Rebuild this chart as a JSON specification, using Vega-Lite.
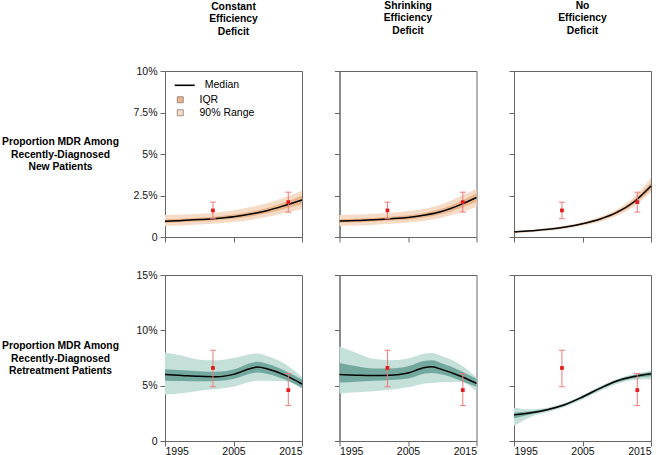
{
  "$schema": "https://vega.github.io/schema/vega-lite/v6.json",
  "padding": {"left": 0, "top": 0, "right": 0, "bottom": 0},
  "background": "white",
  "datasets": {
    "curves": [
      {"panel":"n1","year":1995,"med":0.95,"q25":0.85,"q75":1.06,"p05":0.65,"p95":1.32},
      {"panel":"n1","year":1997.5,"med":0.99,"q25":0.89,"q75":1.10,"p05":0.69,"p95":1.35},
      {"panel":"n1","year":2000,"med":1.05,"q25":0.95,"q75":1.16,"p05":0.75,"p95":1.40},
      {"panel":"n1","year":2002.5,"med":1.12,"q25":1.01,"q75":1.24,"p05":0.82,"p95":1.48},
      {"panel":"n1","year":2005,"med":1.22,"q25":1.10,"q75":1.35,"p05":0.90,"p95":1.60},
      {"panel":"n1","year":2007.5,"med":1.38,"q25":1.24,"q75":1.52,"p05":1.03,"p95":1.80},
      {"panel":"n1","year":2010,"med":1.60,"q25":1.44,"q75":1.76,"p05":1.22,"p95":2.05},
      {"panel":"n1","year":2012.5,"med":1.90,"q25":1.70,"q75":2.10,"p05":1.45,"p95":2.40},
      {"panel":"n1","year":2015,"med":2.23,"q25":1.98,"q75":2.50,"p05":1.68,"p95":2.78},

      {"panel":"n2","year":1995,"med":0.96,"q25":0.86,"q75":1.07,"p05":0.66,"p95":1.32},
      {"panel":"n2","year":1997.5,"med":0.99,"q25":0.89,"q75":1.10,"p05":0.69,"p95":1.35},
      {"panel":"n2","year":2000,"med":1.04,"q25":0.94,"q75":1.15,"p05":0.74,"p95":1.40},
      {"panel":"n2","year":2002.5,"med":1.10,"q25":0.99,"q75":1.22,"p05":0.80,"p95":1.46},
      {"panel":"n2","year":2005,"med":1.18,"q25":1.06,"q75":1.31,"p05":0.88,"p95":1.56},
      {"panel":"n2","year":2007.5,"med":1.32,"q25":1.18,"q75":1.46,"p05":0.98,"p95":1.72},
      {"panel":"n2","year":2010,"med":1.55,"q25":1.39,"q75":1.71,"p05":1.17,"p95":1.98},
      {"panel":"n2","year":2012.5,"med":1.92,"q25":1.72,"q75":2.12,"p05":1.46,"p95":2.42},
      {"panel":"n2","year":2015,"med":2.38,"q25":2.12,"q75":2.64,"p05":1.80,"p95":2.90},

      {"panel":"n3","year":1995,"med":0.30,"q25":0.27,"q75":0.33,"p05":0.22,"p95":0.36},
      {"panel":"n3","year":1997.5,"med":0.37,"q25":0.34,"q75":0.40,"p05":0.29,"p95":0.44},
      {"panel":"n3","year":2000,"med":0.46,"q25":0.43,"q75":0.50,"p05":0.37,"p95":0.54},
      {"panel":"n3","year":2002.5,"med":0.60,"q25":0.56,"q75":0.64,"p05":0.50,"p95":0.69},
      {"panel":"n3","year":2005,"med":0.80,"q25":0.75,"q75":0.85,"p05":0.68,"p95":0.91},
      {"panel":"n3","year":2007.5,"med":1.07,"q25":1.00,"q75":1.13,"p05":0.92,"p95":1.21},
      {"panel":"n3","year":2010,"med":1.48,"q25":1.39,"q75":1.56,"p05":1.28,"p95":1.66},
      {"panel":"n3","year":2012.5,"med":2.11,"q25":1.98,"q75":2.24,"p05":1.84,"p95":2.40},
      {"panel":"n3","year":2015,"med":3.07,"q25":2.88,"q75":3.27,"p05":2.70,"p95":3.55},

      {"panel":"r1","year":1995,"med":6.00,"q25":5.45,"q75":6.48,"p05":4.20,"p95":8.00},
      {"panel":"r1","year":1997.5,"med":5.92,"q25":5.42,"q75":6.40,"p05":4.32,"p95":7.70},
      {"panel":"r1","year":2000,"med":5.84,"q25":5.40,"q75":6.30,"p05":4.55,"p95":7.35},
      {"panel":"r1","year":2002.5,"med":5.80,"q25":5.42,"q75":6.25,"p05":4.70,"p95":7.30},
      {"panel":"r1","year":2005,"med":6.02,"q25":5.60,"q75":6.45,"p05":4.90,"p95":7.50},
      {"panel":"r1","year":2007.5,"med":6.55,"q25":6.10,"q75":7.05,"p05":5.35,"p95":7.85},
      {"panel":"r1","year":2008.5,"med":6.68,"q25":6.20,"q75":7.15,"p05":5.45,"p95":7.90},
      {"panel":"r1","year":2010,"med":6.50,"q25":6.05,"q75":6.95,"p05":5.45,"p95":7.65},
      {"panel":"r1","year":2012.5,"med":5.95,"q25":5.55,"q75":6.35,"p05":5.40,"p95":6.95},
      {"panel":"r1","year":2015,"med":5.15,"q25":4.82,"q75":5.55,"p05":4.75,"p95":5.78},

      {"panel":"r2","year":1995,"med":6.00,"q25":5.28,"q75":7.05,"p05":4.30,"p95":8.55},
      {"panel":"r2","year":1997.5,"med":5.95,"q25":5.35,"q75":6.75,"p05":4.40,"p95":7.95},
      {"panel":"r2","year":2000,"med":5.92,"q25":5.45,"q75":6.55,"p05":4.50,"p95":7.40},
      {"panel":"r2","year":2002.5,"med":5.95,"q25":5.52,"q75":6.55,"p05":4.65,"p95":7.30},
      {"panel":"r2","year":2005,"med":6.15,"q25":5.65,"q75":6.75,"p05":4.85,"p95":7.45},
      {"panel":"r2","year":2007.5,"med":6.65,"q25":6.10,"q75":7.25,"p05":5.20,"p95":7.90},
      {"panel":"r2","year":2008.5,"med":6.70,"q25":6.15,"q75":7.30,"p05":5.25,"p95":7.95},
      {"panel":"r2","year":2010,"med":6.45,"q25":6.00,"q75":7.00,"p05":5.30,"p95":7.65},
      {"panel":"r2","year":2012.5,"med":5.90,"q25":5.50,"q75":6.40,"p05":5.35,"p95":6.95},
      {"panel":"r2","year":2015,"med":5.20,"q25":4.90,"q75":5.62,"p05":4.45,"p95":5.75},

      {"panel":"r3","year":1995,"med":2.36,"q25":2.05,"q75":2.55,"p05":1.35,"p95":3.00},
      {"panel":"r3","year":1997.5,"med":2.55,"q25":2.42,"q75":2.68,"p05":2.20,"p95":2.85},
      {"panel":"r3","year":2000,"med":2.85,"q25":2.76,"q75":2.93,"p05":2.62,"p95":3.02},
      {"panel":"r3","year":2002.5,"med":3.30,"q25":3.22,"q75":3.38,"p05":3.10,"p95":3.46},
      {"panel":"r3","year":2005,"med":3.98,"q25":3.88,"q75":4.06,"p05":3.76,"p95":4.14},
      {"panel":"r3","year":2007.5,"med":4.75,"q25":4.64,"q75":4.84,"p05":4.50,"p95":4.92},
      {"panel":"r3","year":2010,"med":5.42,"q25":5.30,"q75":5.52,"p05":5.16,"p95":5.60},
      {"panel":"r3","year":2012.5,"med":5.82,"q25":5.68,"q75":5.95,"p05":5.52,"p95":6.05},
      {"panel":"r3","year":2015,"med":6.08,"q25":5.85,"q75":6.22,"p05":5.58,"p95":6.35}
    ],
    "obs": [
      {"row":"n","year":2002,"val":1.6,"lo":1.1,"hi":2.1},
      {"row":"n","year":2013,"val":2.1,"lo":1.5,"hi":2.7},
      {"row":"r","year":2002,"val":6.6,"lo":4.9,"hi":8.2},
      {"row":"r","year":2013,"val":4.6,"lo":3.2,"hi":6.1}
    ]
  },
  "columns": 3,
  "spacing": {"row": 38, "column": 37.5},
  "bounds": "flush",
  "resolve": {"scale": {"fill": "independent", "stroke": "independent"}},
  "concat": [
    {
      "width": 137, "height": 166,
      "title": {"text": ["Constant", "Efficiency", "Deficit"], "offset": 29, "anchor": "middle", "frame": "group"},
      "layer": [
        {"data": {"name": "curves"}, "transform": [{"filter": "datum.panel === 'n1'"}],
         "mark": {"type": "area", "interpolate": "monotone", "opacity": 1},
         "encoding": {
           "x": {"field": "year", "type": "quantitative", "scale": {"domain": [1995, 2015], "nice": false, "zero": false}, "axis": {"values": [1995, 2005, 2015], "labels": false, "title": null}},
           "y": {"field": "p05", "type": "quantitative", "scale": {"domain": [0, 10], "nice": false}, "axis": {"values": [0, 2.5, 5, 7.5, 10], "labelExpr": "datum.value === 0 ? '0' : datum.value + '%'", "title": ["Proportion MDR Among", "Recently-Diagnosed", "New Patients"], "titleAngle": 0, "titleX": -105, "titleY": 70.5, "titleAlign": "center", "titleBaseline": "middle"}},
           "y2": {"field": "p95"},
           "fill": {"datum": "90% Range", "type": "nominal",
             "scale": {"domain": ["IQR", "90% Range"], "range": ["#e9b48a", "#f6dcc6"]},
             "legend": {"orient": "none", "legendX": 10, "legendY": 23.5, "title": null, "symbolType": "square", "symbolSize": 36, "symbolStrokeColor": "#8c7b70", "symbolStrokeWidth": 0.8, "labelFontSize": 10.5, "labelColor": "#000000", "labelOffset": 14, "rowPadding": 2}}
         }},
        {"data": {"name": "curves"}, "transform": [{"filter": "datum.panel === 'n1'"}],
         "mark": {"type": "area", "interpolate": "monotone", "opacity": 1},
         "encoding": {
           "x": {"field": "year", "type": "quantitative"},
           "y": {"field": "q25", "type": "quantitative"},
           "y2": {"field": "q75"},
           "fill": {"datum": "IQR", "type": "nominal"}
         }},
        {"data": {"name": "curves"}, "transform": [{"filter": "datum.panel === 'n1'"}],
         "mark": {"type": "line", "interpolate": "monotone", "strokeWidth": 1.5},
         "encoding": {
           "x": {"field": "year", "type": "quantitative"},
           "y": {"field": "med", "type": "quantitative"},
           "stroke": {"datum": "Median", "type": "nominal", "scale": {"domain": ["Median"], "range": ["#000000"]},
             "legend": {"orient": "none", "legendX": 8.7, "legendY": 3.3, "title": null, "symbolType": "stroke", "symbolSize": 400, "symbolStrokeWidth": 1.6, "labelFontSize": 10.5, "labelColor": "#000000", "labelOffset": 9}}
         }},
        {"data": {"name": "obs"}, "transform": [{"filter": "datum.row === 'n'"}],
         "mark": {"type": "rule", "color": "#f07a7a", "strokeWidth": 1},
         "encoding": {"x": {"field": "year", "type": "quantitative"}, "y": {"field": "lo", "type": "quantitative"}, "y2": {"field": "hi"}}},
        {"data": {"name": "obs"}, "transform": [{"filter": "datum.row === 'n'"}],
         "mark": {"type": "tick", "orient": "horizontal", "color": "#f07a7a", "size": 6, "thickness": 1, "opacity": 1},
         "encoding": {"x": {"field": "year", "type": "quantitative"}, "y": {"field": "lo", "type": "quantitative"}}},
        {"data": {"name": "obs"}, "transform": [{"filter": "datum.row === 'n'"}],
         "mark": {"type": "tick", "orient": "horizontal", "color": "#f07a7a", "size": 6, "thickness": 1, "opacity": 1},
         "encoding": {"x": {"field": "year", "type": "quantitative"}, "y": {"field": "hi", "type": "quantitative"}}},
        {"data": {"name": "obs"}, "transform": [{"filter": "datum.row === 'n'"}],
         "mark": {"type": "square", "color": "#e41a1c", "size": 14, "filled": true, "opacity": 1},
         "encoding": {"x": {"field": "year", "type": "quantitative"}, "y": {"field": "val", "type": "quantitative"}}}
      ]
    },
    {
      "width": 137, "height": 166,
      "title": {"text": ["Shrinking", "Efficiency", "Deficit"], "offset": 34.5, "anchor": "middle", "frame": "group"},
      "layer": [
        {"data": {"name": "curves"}, "transform": [{"filter": "datum.panel === 'n2'"}],
         "mark": {"type": "area", "interpolate": "monotone", "color": "#f6dcc6", "opacity": 1},
         "encoding": {
           "x": {"field": "year", "type": "quantitative", "scale": {"domain": [1995, 2015], "nice": false, "zero": false}, "axis": {"values": [1995, 2005, 2015], "labels": false, "title": null}},
           "y": {"field": "p05", "type": "quantitative", "scale": {"domain": [0, 10], "nice": false}, "axis": {"values": [0, 2.5, 5, 7.5, 10], "labels": false, "title": null}},
           "y2": {"field": "p95"}
         }},
        {"data": {"name": "curves"}, "transform": [{"filter": "datum.panel === 'n2'"}],
         "mark": {"type": "area", "interpolate": "monotone", "color": "#e9b48a", "opacity": 1},
         "encoding": {"x": {"field": "year", "type": "quantitative"}, "y": {"field": "q25", "type": "quantitative"}, "y2": {"field": "q75"}}},
        {"data": {"name": "curves"}, "transform": [{"filter": "datum.panel === 'n2'"}],
         "mark": {"type": "line", "interpolate": "monotone", "strokeWidth": 1.5, "color": "#000000"},
         "encoding": {"x": {"field": "year", "type": "quantitative"}, "y": {"field": "med", "type": "quantitative"}}},
        {"data": {"name": "obs"}, "transform": [{"filter": "datum.row === 'n'"}],
         "mark": {"type": "rule", "color": "#f07a7a", "strokeWidth": 1},
         "encoding": {"x": {"field": "year", "type": "quantitative"}, "y": {"field": "lo", "type": "quantitative"}, "y2": {"field": "hi"}}},
        {"data": {"name": "obs"}, "transform": [{"filter": "datum.row === 'n'"}],
         "mark": {"type": "tick", "orient": "horizontal", "color": "#f07a7a", "size": 6, "thickness": 1, "opacity": 1},
         "encoding": {"x": {"field": "year", "type": "quantitative"}, "y": {"field": "lo", "type": "quantitative"}}},
        {"data": {"name": "obs"}, "transform": [{"filter": "datum.row === 'n'"}],
         "mark": {"type": "tick", "orient": "horizontal", "color": "#f07a7a", "size": 6, "thickness": 1, "opacity": 1},
         "encoding": {"x": {"field": "year", "type": "quantitative"}, "y": {"field": "hi", "type": "quantitative"}}},
        {"data": {"name": "obs"}, "transform": [{"filter": "datum.row === 'n'"}],
         "mark": {"type": "square", "color": "#e41a1c", "size": 14, "filled": true, "opacity": 1},
         "encoding": {"x": {"field": "year", "type": "quantitative"}, "y": {"field": "val", "type": "quantitative"}}}
      ]
    },
    {
      "width": 137, "height": 166,
      "title": {"text": ["No", "Efficiency", "Deficit"], "offset": 34.5, "anchor": "middle", "frame": "group"},
      "layer": [
        {"data": {"name": "curves"}, "transform": [{"filter": "datum.panel === 'n3'"}],
         "mark": {"type": "area", "interpolate": "monotone", "color": "#f6dcc6", "opacity": 1},
         "encoding": {
           "x": {"field": "year", "type": "quantitative", "scale": {"domain": [1995, 2015], "nice": false, "zero": false}, "axis": {"values": [1995, 2005, 2015], "labels": false, "title": null}},
           "y": {"field": "p05", "type": "quantitative", "scale": {"domain": [0, 10], "nice": false}, "axis": {"values": [0, 2.5, 5, 7.5, 10], "labels": false, "title": null}},
           "y2": {"field": "p95"}
         }},
        {"data": {"name": "curves"}, "transform": [{"filter": "datum.panel === 'n3'"}],
         "mark": {"type": "area", "interpolate": "monotone", "color": "#e9b48a", "opacity": 1},
         "encoding": {"x": {"field": "year", "type": "quantitative"}, "y": {"field": "q25", "type": "quantitative"}, "y2": {"field": "q75"}}},
        {"data": {"name": "curves"}, "transform": [{"filter": "datum.panel === 'n3'"}],
         "mark": {"type": "line", "interpolate": "monotone", "strokeWidth": 1.5, "color": "#000000"},
         "encoding": {"x": {"field": "year", "type": "quantitative"}, "y": {"field": "med", "type": "quantitative"}}},
        {"data": {"name": "obs"}, "transform": [{"filter": "datum.row === 'n'"}],
         "mark": {"type": "rule", "color": "#f07a7a", "strokeWidth": 1},
         "encoding": {"x": {"field": "year", "type": "quantitative"}, "y": {"field": "lo", "type": "quantitative"}, "y2": {"field": "hi"}}},
        {"data": {"name": "obs"}, "transform": [{"filter": "datum.row === 'n'"}],
         "mark": {"type": "tick", "orient": "horizontal", "color": "#f07a7a", "size": 6, "thickness": 1, "opacity": 1},
         "encoding": {"x": {"field": "year", "type": "quantitative"}, "y": {"field": "lo", "type": "quantitative"}}},
        {"data": {"name": "obs"}, "transform": [{"filter": "datum.row === 'n'"}],
         "mark": {"type": "tick", "orient": "horizontal", "color": "#f07a7a", "size": 6, "thickness": 1, "opacity": 1},
         "encoding": {"x": {"field": "year", "type": "quantitative"}, "y": {"field": "hi", "type": "quantitative"}}},
        {"data": {"name": "obs"}, "transform": [{"filter": "datum.row === 'n'"}],
         "mark": {"type": "square", "color": "#e41a1c", "size": 14, "filled": true, "opacity": 1},
         "encoding": {"x": {"field": "year", "type": "quantitative"}, "y": {"field": "val", "type": "quantitative"}}}
      ]
    },
    {
      "width": 137, "height": 166,
      "layer": [
        {"data": {"name": "curves"}, "transform": [{"filter": "datum.panel === 'r1'"}],
         "mark": {"type": "area", "interpolate": "monotone", "color": "#c5dfd9", "opacity": 1},
         "encoding": {
           "x": {"field": "year", "type": "quantitative", "scale": {"domain": [1995, 2015], "nice": false, "zero": false}, "axis": {"values": [1995, 2005, 2015], "format": "d", "title": null, "labelPadding": 0}},
           "y": {"field": "p05", "type": "quantitative", "scale": {"domain": [0, 15], "nice": false}, "axis": {"values": [0, 5, 10, 15], "labelExpr": "datum.value === 0 ? '0' : datum.value + '%'", "title": ["Proportion MDR Among", "Recently-Diagnosed", "Retreatment Patients"], "titleAngle": 0, "titleX": -105, "titleY": 70.5, "titleAlign": "center", "titleBaseline": "middle"}},
           "y2": {"field": "p95"}
         }},
        {"data": {"name": "curves"}, "transform": [{"filter": "datum.panel === 'r1'"}],
         "mark": {"type": "area", "interpolate": "monotone", "color": "#72a89e", "opacity": 1},
         "encoding": {"x": {"field": "year", "type": "quantitative"}, "y": {"field": "q25", "type": "quantitative"}, "y2": {"field": "q75"}}},
        {"data": {"name": "curves"}, "transform": [{"filter": "datum.panel === 'r1'"}],
         "mark": {"type": "line", "interpolate": "monotone", "strokeWidth": 1.5, "color": "#000000"},
         "encoding": {"x": {"field": "year", "type": "quantitative"}, "y": {"field": "med", "type": "quantitative"}}},
        {"data": {"name": "obs"}, "transform": [{"filter": "datum.row === 'r'"}],
         "mark": {"type": "rule", "color": "#f07a7a", "strokeWidth": 1},
         "encoding": {"x": {"field": "year", "type": "quantitative"}, "y": {"field": "lo", "type": "quantitative"}, "y2": {"field": "hi"}}},
        {"data": {"name": "obs"}, "transform": [{"filter": "datum.row === 'r'"}],
         "mark": {"type": "tick", "orient": "horizontal", "color": "#f07a7a", "size": 6, "thickness": 1, "opacity": 1},
         "encoding": {"x": {"field": "year", "type": "quantitative"}, "y": {"field": "lo", "type": "quantitative"}}},
        {"data": {"name": "obs"}, "transform": [{"filter": "datum.row === 'r'"}],
         "mark": {"type": "tick", "orient": "horizontal", "color": "#f07a7a", "size": 6, "thickness": 1, "opacity": 1},
         "encoding": {"x": {"field": "year", "type": "quantitative"}, "y": {"field": "hi", "type": "quantitative"}}},
        {"data": {"name": "obs"}, "transform": [{"filter": "datum.row === 'r'"}],
         "mark": {"type": "square", "color": "#e41a1c", "size": 14, "filled": true, "opacity": 1},
         "encoding": {"x": {"field": "year", "type": "quantitative"}, "y": {"field": "val", "type": "quantitative"}}}
      ]
    },
    {
      "width": 137, "height": 166,
      "layer": [
        {"data": {"name": "curves"}, "transform": [{"filter": "datum.panel === 'r2'"}],
         "mark": {"type": "area", "interpolate": "monotone", "color": "#c5dfd9", "opacity": 1},
         "encoding": {
           "x": {"field": "year", "type": "quantitative", "scale": {"domain": [1995, 2015], "nice": false, "zero": false}, "axis": {"values": [1995, 2005, 2015], "format": "d", "title": null, "labelPadding": 0}},
           "y": {"field": "p05", "type": "quantitative", "scale": {"domain": [0, 15], "nice": false}, "axis": {"values": [0, 5, 10, 15], "labels": false, "title": null}},
           "y2": {"field": "p95"}
         }},
        {"data": {"name": "curves"}, "transform": [{"filter": "datum.panel === 'r2'"}],
         "mark": {"type": "area", "interpolate": "monotone", "color": "#72a89e", "opacity": 1},
         "encoding": {"x": {"field": "year", "type": "quantitative"}, "y": {"field": "q25", "type": "quantitative"}, "y2": {"field": "q75"}}},
        {"data": {"name": "curves"}, "transform": [{"filter": "datum.panel === 'r2'"}],
         "mark": {"type": "line", "interpolate": "monotone", "strokeWidth": 1.5, "color": "#000000"},
         "encoding": {"x": {"field": "year", "type": "quantitative"}, "y": {"field": "med", "type": "quantitative"}}},
        {"data": {"name": "obs"}, "transform": [{"filter": "datum.row === 'r'"}],
         "mark": {"type": "rule", "color": "#f07a7a", "strokeWidth": 1},
         "encoding": {"x": {"field": "year", "type": "quantitative"}, "y": {"field": "lo", "type": "quantitative"}, "y2": {"field": "hi"}}},
        {"data": {"name": "obs"}, "transform": [{"filter": "datum.row === 'r'"}],
         "mark": {"type": "tick", "orient": "horizontal", "color": "#f07a7a", "size": 6, "thickness": 1, "opacity": 1},
         "encoding": {"x": {"field": "year", "type": "quantitative"}, "y": {"field": "lo", "type": "quantitative"}}},
        {"data": {"name": "obs"}, "transform": [{"filter": "datum.row === 'r'"}],
         "mark": {"type": "tick", "orient": "horizontal", "color": "#f07a7a", "size": 6, "thickness": 1, "opacity": 1},
         "encoding": {"x": {"field": "year", "type": "quantitative"}, "y": {"field": "hi", "type": "quantitative"}}},
        {"data": {"name": "obs"}, "transform": [{"filter": "datum.row === 'r'"}],
         "mark": {"type": "square", "color": "#e41a1c", "size": 14, "filled": true, "opacity": 1},
         "encoding": {"x": {"field": "year", "type": "quantitative"}, "y": {"field": "val", "type": "quantitative"}}}
      ]
    },
    {
      "width": 137, "height": 166,
      "layer": [
        {"data": {"name": "curves"}, "transform": [{"filter": "datum.panel === 'r3'"}],
         "mark": {"type": "area", "interpolate": "monotone", "color": "#c5dfd9", "opacity": 1},
         "encoding": {
           "x": {"field": "year", "type": "quantitative", "scale": {"domain": [1995, 2015], "nice": false, "zero": false}, "axis": {"values": [1995, 2005, 2015], "format": "d", "title": null, "labelPadding": 0}},
           "y": {"field": "p05", "type": "quantitative", "scale": {"domain": [0, 15], "nice": false}, "axis": {"values": [0, 5, 10, 15], "labels": false, "title": null}},
           "y2": {"field": "p95"}
         }},
        {"data": {"name": "curves"}, "transform": [{"filter": "datum.panel === 'r3'"}],
         "mark": {"type": "area", "interpolate": "monotone", "color": "#72a89e", "opacity": 1},
         "encoding": {"x": {"field": "year", "type": "quantitative"}, "y": {"field": "q25", "type": "quantitative"}, "y2": {"field": "q75"}}},
        {"data": {"name": "curves"}, "transform": [{"filter": "datum.panel === 'r3'"}],
         "mark": {"type": "line", "interpolate": "monotone", "strokeWidth": 1.5, "color": "#000000"},
         "encoding": {"x": {"field": "year", "type": "quantitative"}, "y": {"field": "med", "type": "quantitative"}}},
        {"data": {"name": "obs"}, "transform": [{"filter": "datum.row === 'r'"}],
         "mark": {"type": "rule", "color": "#f07a7a", "strokeWidth": 1},
         "encoding": {"x": {"field": "year", "type": "quantitative"}, "y": {"field": "lo", "type": "quantitative"}, "y2": {"field": "hi"}}},
        {"data": {"name": "obs"}, "transform": [{"filter": "datum.row === 'r'"}],
         "mark": {"type": "tick", "orient": "horizontal", "color": "#f07a7a", "size": 6, "thickness": 1, "opacity": 1},
         "encoding": {"x": {"field": "year", "type": "quantitative"}, "y": {"field": "lo", "type": "quantitative"}}},
        {"data": {"name": "obs"}, "transform": [{"filter": "datum.row === 'r'"}],
         "mark": {"type": "tick", "orient": "horizontal", "color": "#f07a7a", "size": 6, "thickness": 1, "opacity": 1},
         "encoding": {"x": {"field": "year", "type": "quantitative"}, "y": {"field": "hi", "type": "quantitative"}}},
        {"data": {"name": "obs"}, "transform": [{"filter": "datum.row === 'r'"}],
         "mark": {"type": "square", "color": "#e41a1c", "size": 14, "filled": true, "opacity": 1},
         "encoding": {"x": {"field": "year", "type": "quantitative"}, "y": {"field": "val", "type": "quantitative"}}}
      ]
    }
  ],
  "config": {
    "font": "Liberation Sans",
    "view": {"stroke": "#666666", "strokeWidth": 1},
    "axis": {"domainColor": "#666666", "tickColor": "#666666", "tickSize": 5, "labelColor": "#111111", "labelFontSize": 10.5, "labelFont": "Liberation Sans", "titleFont": "Liberation Sans", "titleFontSize": 10.3, "titleFontWeight": "bold", "titleColor": "#000000", "titleLineHeight": 12.5, "labelPadding": 3, "grid": false},
    "title": {"font": "Liberation Sans", "fontSize": 10.3, "fontWeight": "bold", "color": "#000000", "lineHeight": 12.5},
    "legend": {"labelFont": "Liberation Sans"}
  }
}
